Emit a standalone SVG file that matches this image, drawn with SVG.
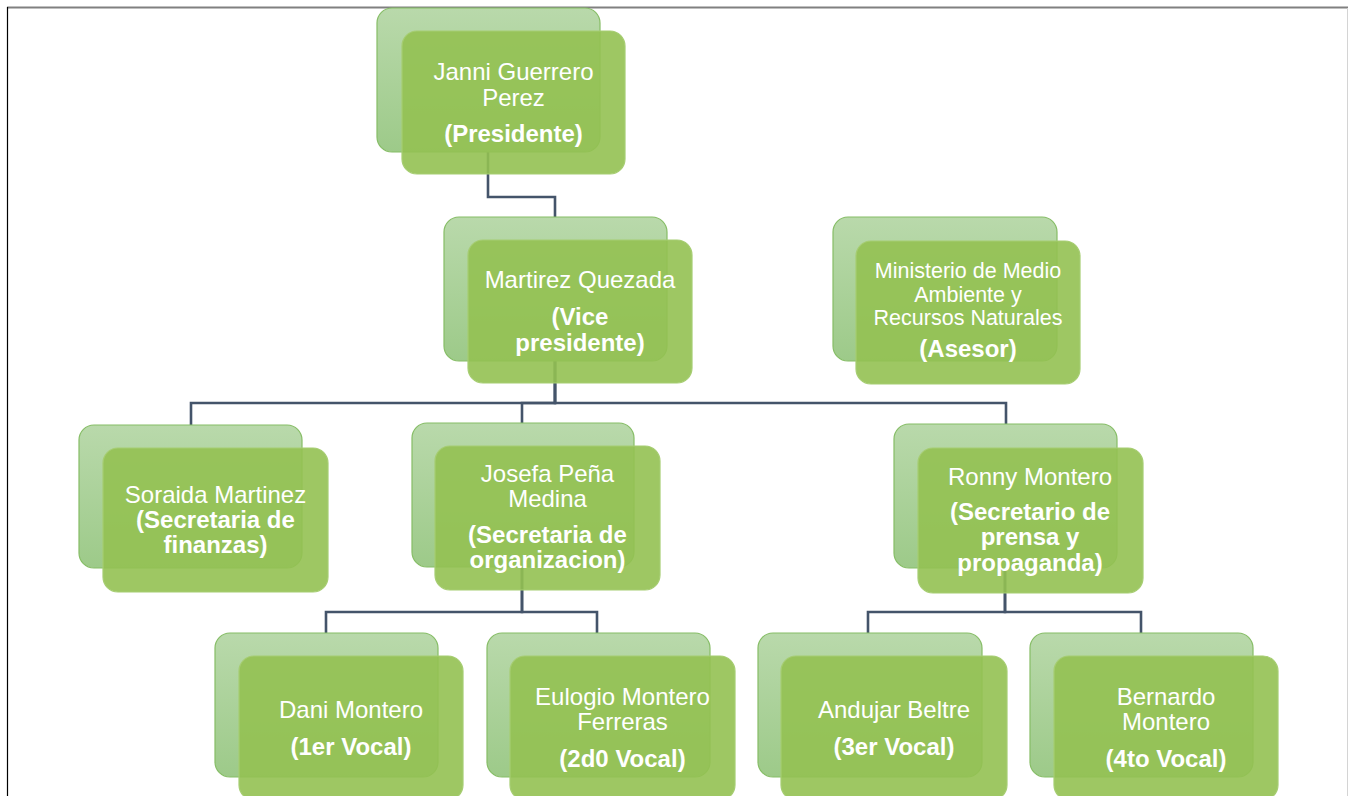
<svg xmlns="http://www.w3.org/2000/svg" width="1348" height="796" viewBox="0 0 1348 796">
<style>
.back{fill:url(#gb);stroke:#86bd66;stroke-width:1.2}
.front{fill:#93c152;fill-opacity:0.9;stroke:#a6cd72;stroke-width:1.2}
.t{font-family:"Liberation Sans",Arial,sans-serif;font-size:24px;fill:#ffffff;text-anchor:middle}
.b{font-weight:bold}
.s{font-size:21.5px}
.c{fill:none;stroke:#44546a;stroke-width:2.6}
</style>
<defs>
<linearGradient id="gb" x1="0" y1="0" x2="0" y2="1">
<stop offset="0" stop-color="#b9d9ab"/>
<stop offset="1" stop-color="#9dca89"/>
</linearGradient>
</defs>
<rect x="0" y="0" width="1348" height="796" fill="#ffffff"/>
<line x1="7" y1="7.5" x2="1348" y2="7.5" stroke="#808080" stroke-width="2"/>
<line x1="7.5" y1="7" x2="7.5" y2="796" stroke="#000000" stroke-width="1.2"/>
<line x1="1347.5" y1="8" x2="1347.5" y2="796" stroke="#d4d4d4" stroke-width="1"/>
<g id="connectors">
<path class="c" d="M488,152 V197 H555 V217"/>
<path class="c" d="M555,361 V403 H191 V425"/>
<path class="c" d="M555,361 V403 H522 V423"/>
<path class="c" d="M555,361 V403 H1006 V424"/>
<path class="c" d="M522,567 V612 H326 V633"/>
<path class="c" d="M522,567 V612 H597 V633"/>
<path class="c" d="M1005,568 V612 H868 V633"/>
<path class="c" d="M1005,568 V612 H1141 V633"/>
</g>
<g id="presidente">
<rect class="back" x="377" y="8" width="223" height="144" rx="15"/>
<rect class="front" x="402" y="31" width="223" height="143" rx="15"/>
<text class="t" x="513.5" y="80">Janni Guerrero</text>
<text class="t" x="513.5" y="106">Perez</text>
<text class="t b" x="513.5" y="142">(Presidente)</text>
</g>
<g id="vicepresidente">
<rect class="back" x="444" y="217" width="223" height="144" rx="15"/>
<rect class="front" x="468" y="240" width="224" height="143" rx="15"/>
<text class="t" x="580" y="288">Martirez Quezada</text>
<text class="t b" x="580" y="325">(Vice</text>
<text class="t b" x="580" y="351">presidente)</text>
</g>
<g id="asesor">
<rect class="back" x="833" y="217" width="224" height="144" rx="15"/>
<rect class="front" x="856" y="241" width="224" height="143" rx="15"/>
<text class="t s" x="968" y="278">Ministerio de Medio</text>
<text class="t s" x="968" y="302">Ambiente y</text>
<text class="t s" x="968" y="325">Recursos Naturales</text>
<text class="t b" x="968" y="357">(Asesor)</text>
</g>
<g id="finanzas">
<rect class="back" x="79" y="425" width="223" height="143" rx="15"/>
<rect class="front" x="103" y="448" width="225" height="144" rx="15"/>
<text class="t" x="215.5" y="503">Soraida Martinez</text>
<text class="t b" x="215.5" y="528">(Secretaria de</text>
<text class="t b" x="215.5" y="553">finanzas)</text>
</g>
<g id="organizacion">
<rect class="back" x="412" y="423" width="222" height="144" rx="15"/>
<rect class="front" x="435" y="446" width="225" height="144" rx="15"/>
<text class="t" x="547.5" y="482">Josefa Peña</text>
<text class="t" x="547.5" y="507">Medina</text>
<text class="t b" x="547.5" y="543">(Secretaria de</text>
<text class="t b" x="547.5" y="568">organizacion)</text>
</g>
<g id="prensa">
<rect class="back" x="894" y="424" width="223" height="144" rx="15"/>
<rect class="front" x="918" y="448" width="225" height="145" rx="15"/>
<text class="t" x="1030" y="485">Ronny Montero</text>
<text class="t b" x="1030" y="520">(Secretario de</text>
<text class="t b" x="1030" y="545">prensa y</text>
<text class="t b" x="1030" y="571">propaganda)</text>
</g>
<g id="vocal1">
<rect class="back" x="215" y="633" width="223" height="144" rx="15"/>
<rect class="front" x="239" y="656" width="224" height="144" rx="15"/>
<text class="t" x="351" y="718">Dani Montero</text>
<text class="t b" x="351" y="755">(1er Vocal)</text>
</g>
<g id="vocal2">
<rect class="back" x="487" y="633" width="223" height="144" rx="15"/>
<rect class="front" x="510" y="656" width="225" height="144" rx="15"/>
<text class="t" x="622.5" y="705">Eulogio Montero</text>
<text class="t" x="622.5" y="730">Ferreras</text>
<text class="t b" x="622.5" y="767">(2d0 Vocal)</text>
</g>
<g id="vocal3">
<rect class="back" x="758" y="633" width="224" height="144" rx="15"/>
<rect class="front" x="781" y="656" width="226" height="144" rx="15"/>
<text class="t" x="894" y="718">Andujar Beltre</text>
<text class="t b" x="894" y="755">(3er Vocal)</text>
</g>
<g id="vocal4">
<rect class="back" x="1030" y="633" width="223" height="144" rx="15"/>
<rect class="front" x="1054" y="656" width="224" height="144" rx="15"/>
<text class="t" x="1166" y="705">Bernardo</text>
<text class="t" x="1166" y="730">Montero</text>
<text class="t b" x="1166" y="767">(4to Vocal)</text>
</g>
</svg>
